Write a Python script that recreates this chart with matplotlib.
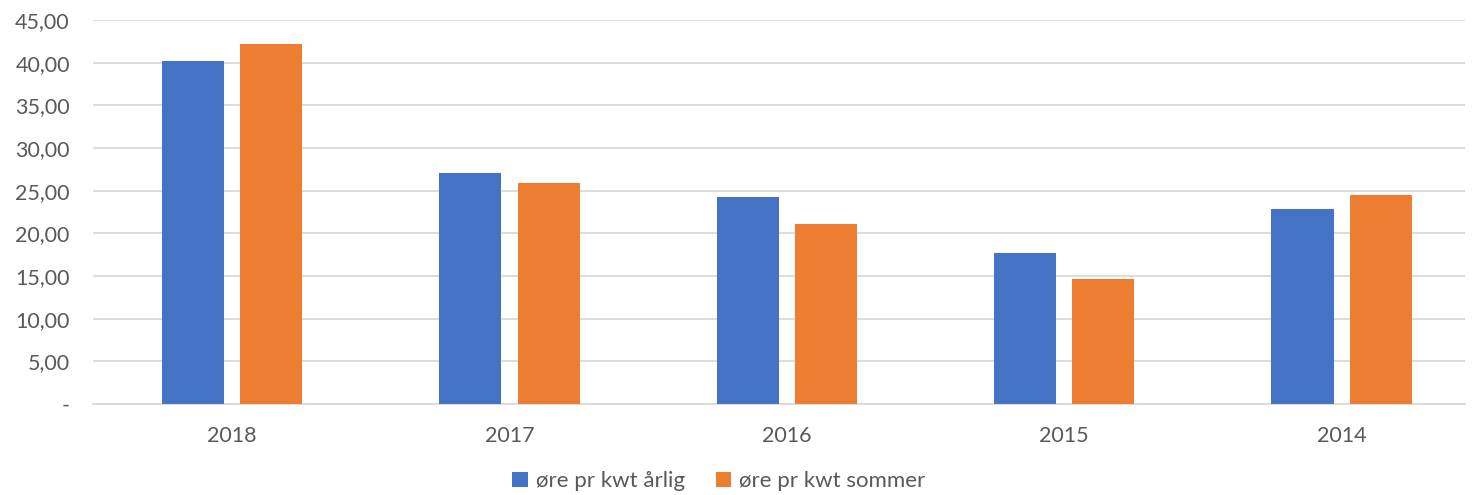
import numpy as np
import matplotlib.pyplot as plt
from matplotlib.ticker import FuncFormatter

years = ['2018', '2017', '2016', '2015', '2014']
arlig = [40.16, 27.03, 24.22, 17.66, 22.81]
sommer = [42.15, 25.94, 21.09, 14.65, 24.45]

plt.rcParams['font.family'] = ['Lato', 'DejaVu Sans']

fig = plt.figure(figsize=(14.76, 4.95), dpi=100)
ax = fig.add_axes([0.0633, 0.1838, 0.9295, 0.7758])

x = np.arange(len(years))
w = 0.224
off = 0.141
ax.bar(x - off, arlig, w, color='#4472C4', label='øre pr kwt årlig', zorder=3)
ax.bar(x + off, sommer, w, color='#ED7D31', label='øre pr kwt sommer', zorder=3)

ax.set_xlim(-0.5, len(years) - 0.554)
ax.set_ylim(0, 45)
ax.set_yticks(np.arange(0, 46, 5))
ax.yaxis.set_major_formatter(FuncFormatter(
    lambda v, p: '-' if v == 0 else f'{v:.2f}'.replace('.', ',')))
ax.set_xticks(x)
ax.set_xticklabels(years)

ax.grid(axis='y', color='#D9D9D9', linewidth=1.3, zorder=0)
for s in ['top', 'right', 'left']:
    ax.spines[s].set_visible(False)
ax.spines['bottom'].set_color('#D9D9D9')
ax.spines['bottom'].set_linewidth(1.3)
ax.tick_params(axis='y', length=0, pad=17, labelsize=15.5, labelcolor='#595959')
ax.tick_params(axis='x', length=0, pad=16, labelsize=15.5, labelcolor='#595959')

fig.legend(loc='center', bbox_to_anchor=(0.487, 0.028), ncol=2, frameon=False,
           fontsize=16, labelcolor='#595959', handlelength=0.7, handleheight=0.7,
           handletextpad=0.35, columnspacing=1.4)

fig.savefig('out.png', dpi=100)
